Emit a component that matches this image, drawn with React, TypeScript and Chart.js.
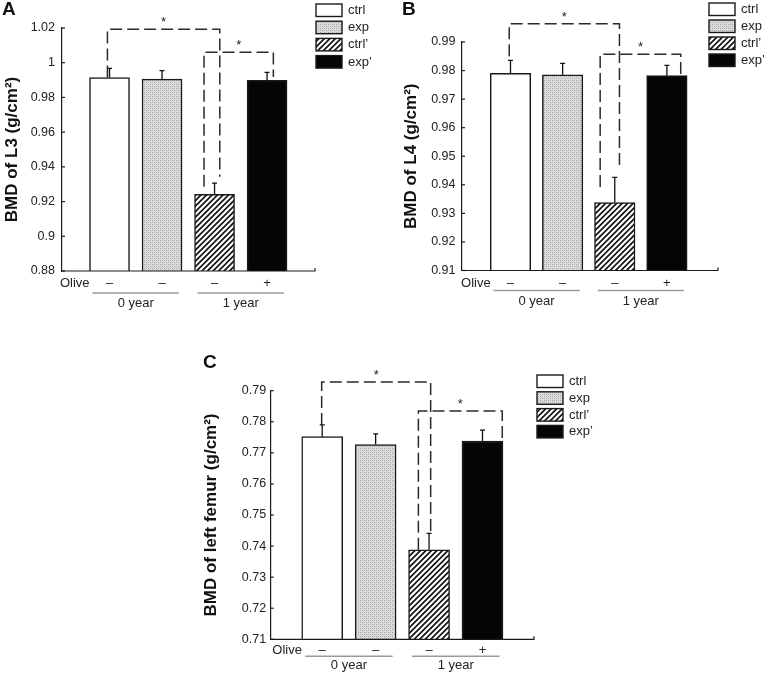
import React, { useEffect, useRef } from 'react';
import { Chart, registerables } from 'chart.js';

Chart.register(...registerables);

const FONT = "'Liberation Sans', Arial, Helvetica, sans-serif";

// ---------- data ----------
const categories = ['ctrl', 'exp', 'ctrl\u2019', 'exp\u2019'];
const oliveMarks = ['\u2013', '\u2013', '\u2013', '+'];
const yearGroups = ['0 year', '1 year'];
const groupMembers = [[0, 1], [2, 3]];

const l3Values = [0.9915, 0.9905, 0.9242, 0.9898];
const l3Errors = [0.0052, 0.005, 0.0064, 0.0046];
const l3Ticks = { min: 0.88, max: 1.02, step: 0.02 };

const l4Values = [0.979, 0.9785, 0.9338, 0.9782];
const l4Errors = [0.0046, 0.004, 0.0088, 0.0036];
const l4Ticks = { min: 0.91, max: 0.99, step: 0.01 };

const femurValues = [0.7752, 0.7727, 0.7388, 0.7738];
const femurErrors = [0.0038, 0.0034, 0.0053, 0.0035];
const femurTicks = { min: 0.71, max: 0.79, step: 0.01 };

// significance brackets (x in category units, y in data units)
const l3Brackets = [
  { from: 0.96, to: 3.1, level: 1.0193, leftEnd: 0.9915, rightEnd: 0.9343 },
  { from: 2.8, to: 4.12, level: 1.006, leftEnd: 0.9285, rightEnd: 0.9918 },
];
const l4Brackets = [
  { from: 0.976, to: 3.09, level: 0.9964, leftEnd: 0.985, rightEnd: 0.9456 },
  { from: 2.72, to: 4.265, level: 0.9857, leftEnd: 0.9392, rightEnd: 0.9783 },
];
const femurBrackets = [
  { from: 0.99, to: 3.03, level: 0.7928, leftEnd: 0.779, rightEnd: 0.7442 },
  { from: 2.8, to: 4.37, level: 0.7835, leftEnd: 0.7388, rightEnd: 0.7738 },
];

// ---------- layout ----------
type Bracket = { from: number; to: number; level: number; leftEnd: number; rightEnd: number };
type Spec = {
  letter: string;
  title: string;
  values: number[];
  errors: number[];
  ticks: { min: number; max: number; step: number };
  brackets: Bracket[];
  frame: { left: number; top: number; width: number; height: number };
  area: { left: number; top: number; right: number; bottom: number };
  xRange: [number, number];
  barWidth: number;
  titlePad: number;
  tickPad: number;
  legend: { x: number; y: number; step: number };
  letterAt: { x: number; y: number };
  rows: { olive: number; line: number; year: number };
};

const panels: Spec[] = [
  {
    letter: 'A', title: 'BMD of L3 (g/cm\u00b2)', values: l3Values, errors: l3Errors, ticks: l3Ticks, brackets: l3Brackets,
    frame: { left: 0, top: 0, width: 380, height: 315 },
    area: { left: 62, top: 28, right: 315, bottom: 271 },
    xRange: [0.095, 4.913], barWidth: 40, titlePad: 2.5, tickPad: 7,
    legend: { x: 316, y: 4, step: 17.2 }, letterAt: { x: 2, y: 15 },
    rows: { olive: 12, line: 22, year: 32 },
  },
  {
    letter: 'B', title: 'BMD of L4 (g/cm\u00b2)', values: l4Values, errors: l4Errors, ticks: l4Ticks, brackets: l4Brackets,
    frame: { left: 380, top: 0, width: 384, height: 315 },
    area: { left: 82, top: 42, right: 338, bottom: 270.5 },
    xRange: [0.07, 4.98], barWidth: 40.5, titlePad: 21, tickPad: 6.5,
    legend: { x: 329, y: 3, step: 17 }, letterAt: { x: 22, y: 15 },
    rows: { olive: 13, line: 20, year: 31 },
  },
  {
    letter: 'C', title: 'BMD of left femur (g/cm\u00b2)', values: femurValues, errors: femurErrors, ticks: femurTicks, brackets: femurBrackets,
    frame: { left: 180, top: 340, width: 420, height: 333 },
    area: { left: 90.7, top: 50.7, right: 354, bottom: 299.3 },
    xRange: [0.036, 4.964], barWidth: 41, titlePad: 21, tickPad: 4.5,
    legend: { x: 357, y: 35, step: 16.8 }, letterAt: { x: 23, y: 28 },
    rows: { olive: 11, line: 17, year: 26 },
  },
];

function makeStipple(): CanvasPattern | string {
  const c = document.createElement('canvas');
  c.width = 4; c.height = 4;
  const g = c.getContext('2d');
  if (!g) return '#cfcfcf';
  g.fillStyle = '#dadada';
  g.fillRect(0, 0, 4, 4);
  g.fillStyle = '#a4a4a4';
  g.fillRect(0, 0, 1, 1);
  g.fillRect(2, 2, 1, 1);
  g.fillStyle = '#c2c2c2';
  g.fillRect(2, 0, 1, 1);
  g.fillRect(0, 2, 1, 1);
  return g.createPattern(c, 'repeat') || '#cfcfcf';
}

function makeHatch(): CanvasPattern | string {
  const s = 5.5;
  const n = 11;
  const c = document.createElement('canvas');
  c.width = n; c.height = n;
  const g = c.getContext('2d');
  if (!g) return '#888';
  g.fillStyle = '#ffffff';
  g.fillRect(0, 0, n, n);
  g.strokeStyle = '#111';
  g.lineWidth = 1.6;
  g.beginPath();
  for (let k = -2; k <= 4; k++) {
    const o = k * s;
    g.moveTo(o - 2, n + 2);
    g.lineTo(o + n + 2, -2);
  }
  g.stroke();
  return g.createPattern(c, 'repeat') || '#888';
}

function overlay(spec: Spec, fills: (string | CanvasPattern)[]) {
  return {
    id: 'overlay' + spec.letter,
    afterDraw(chart: any) {
      const { ctx, chartArea: ca } = chart;
      const x = chart.scales.x;
      const y = chart.scales.y;
      ctx.save();
      ctx.strokeStyle = '#1a1a1a';
      ctx.lineWidth = 1.2;
      // bottom axis with small end tick
      ctx.beginPath();
      ctx.moveTo(ca.left, ca.bottom);
      ctx.lineTo(ca.right, ca.bottom);
      ctx.lineTo(ca.right, ca.bottom - 3);
      ctx.stroke();
      // inward y ticks
      y.ticks.forEach((t: any) => {
        const py = y.getPixelForValue(t.value);
        ctx.beginPath();
        ctx.moveTo(ca.left, py);
        ctx.lineTo(ca.left + 3, py);
        ctx.stroke();
      });
      // error bars
      ctx.lineWidth = 1.3;
      ctx.strokeStyle = '#111';
      spec.values.forEach((v, i) => {
        const px = x.getPixelForValue(i + 1);
        const p0 = y.getPixelForValue(v);
        const p1 = y.getPixelForValue(v + spec.errors[i]);
        ctx.beginPath();
        ctx.moveTo(px, p0);
        ctx.lineTo(px, p1);
        ctx.moveTo(px - 2.5, p1);
        ctx.lineTo(px + 2.5, p1);
        ctx.stroke();
      });
      // significance brackets
      ctx.strokeStyle = '#2a2a2a';
      ctx.lineWidth = 1.5;
      ctx.setLineDash([12, 5]);
      spec.brackets.forEach((b) => {
        const x1 = x.getPixelForValue(b.from);
        const x2 = x.getPixelForValue(b.to);
        const yl = y.getPixelForValue(b.level);
        ctx.beginPath();
        ctx.moveTo(x1, y.getPixelForValue(b.leftEnd));
        ctx.lineTo(x1, yl);
        ctx.lineTo(x2, yl);
        ctx.lineTo(x2, y.getPixelForValue(b.rightEnd));
        ctx.stroke();
      });
      ctx.setLineDash([]);
      ctx.fillStyle = '#222';
      ctx.font = `13px ${FONT}`;
      ctx.textAlign = 'center';
      ctx.textBaseline = 'alphabetic';
      spec.brackets.forEach((b) => {
        const mid = (x.getPixelForValue(b.from) + x.getPixelForValue(b.to)) / 2;
        ctx.fillText('*', mid, y.getPixelForValue(b.level) - 3);
      });
      // legend
      ctx.font = `13px ${FONT}`;
      ctx.textAlign = 'left';
      ctx.textBaseline = 'middle';
      categories.forEach((c, i) => {
        const top = spec.legend.y + i * spec.legend.step;
        ctx.fillStyle = fills[i];
        ctx.fillRect(spec.legend.x, top, 26, 12.5);
        ctx.strokeStyle = '#1a1a1a';
        ctx.lineWidth = 1.4;
        ctx.strokeRect(spec.legend.x, top, 26, 12.5);
        ctx.fillStyle = '#222';
        ctx.fillText(c, spec.legend.x + 32, top + 6.5);
      });
      // olive row
      const oy = ca.bottom + spec.rows.olive;
      ctx.textAlign = 'right';
      ctx.fillText('Olive', x.getPixelForValue(0.62), oy);
      ctx.textAlign = 'center';
      oliveMarks.forEach((m, i) => ctx.fillText(m, x.getPixelForValue(i + 1), oy));
      // group lines and labels
      ctx.strokeStyle = '#9a9a9a';
      ctx.lineWidth = 1.5;
      yearGroups.forEach((g, gi) => {
        const mem = groupMembers[gi];
        const a = x.getPixelForValue(mem[0] + 1);
        const bpx = x.getPixelForValue(mem[mem.length - 1] + 1);
        const ly = ca.bottom + spec.rows.line;
        ctx.beginPath();
        ctx.moveTo(a - 17, ly);
        ctx.lineTo(bpx + 17, ly);
        ctx.stroke();
        ctx.fillStyle = '#222';
        ctx.fillText(g, (a + bpx) / 2, ca.bottom + spec.rows.year);
      });
      // panel letter
      ctx.font = `bold 19px ${FONT}`;
      ctx.textAlign = 'left';
      ctx.textBaseline = 'alphabetic';
      ctx.fillStyle = '#111';
      ctx.fillText(spec.letter, spec.letterAt.x, spec.letterAt.y);
      ctx.restore();
    },
  };
}

function Panel({ spec }: { spec: Spec }) {
  const ref = useRef<HTMLCanvasElement>(null);
  useEffect(() => {
    const canvas = ref.current;
    if (!canvas) return;
    const fills = ['#ffffff', makeStipple(), makeHatch(), '#050505'];
    const chart = new Chart(canvas, {
      type: 'bar',
      data: {
        datasets: [
          {
            data: categories.map((_, i) => ({ x: i + 1, y: spec.values[i] })),
            backgroundColor: fills as any,
            borderColor: '#1a1a1a',
            borderWidth: 1.5,
            borderSkipped: false,
            barThickness: spec.barWidth,
          } as any,
        ],
      },
      options: {
        responsive: false,
        animation: false,
        layout: {
          padding: {
            left: 0,
            top: spec.area.top,
            right: spec.frame.width - spec.area.right,
            bottom: spec.frame.height - spec.area.bottom,
          },
        },
        plugins: { legend: { display: false }, tooltip: { enabled: false } },
        scales: {
          x: {
            type: 'linear',
            min: spec.xRange[0],
            max: spec.xRange[1],
            offset: false,
            grid: { offset: false },
            display: false,
          },
          y: {
            min: spec.ticks.min,
            max: spec.ticks.max,
            afterFit: (s: any) => {
              s.width = spec.area.left;
            },
            ticks: {
              stepSize: spec.ticks.step,
              padding: spec.tickPad,
              color: '#222',
              font: { size: 12.5, family: FONT },
              callback: (v: any) => String(Number(Number(v).toFixed(4))),
            },
            grid: { display: false, drawTicks: false },
            border: { display: true, color: '#1a1a1a', width: 1.2 },
            title: {
              display: true,
              text: spec.title,
              color: '#111',
              font: { size: 17, weight: 'bold', family: FONT },
              padding: { top: spec.titlePad, bottom: 0 },
            },
          },
        },
      } as any,
      plugins: [overlay(spec, fills)],
    });
    return () => chart.destroy();
  }, [spec]);
  return (
    <canvas
      ref={ref}
      width={spec.frame.width}
      height={spec.frame.height}
      style={{
        position: 'absolute',
        left: spec.frame.left,
        top: spec.frame.top,
        width: spec.frame.width,
        height: spec.frame.height,
      }}
    />
  );
}

export default function App() {
  return (
    <div style={{ position: 'absolute', left: 0, top: 0, width: 764, height: 673, background: '#fff', overflow: 'hidden' }}>
      {panels.map((p) => (
        <Panel key={p.letter} spec={p} />
      ))}
    </div>
  );
}
